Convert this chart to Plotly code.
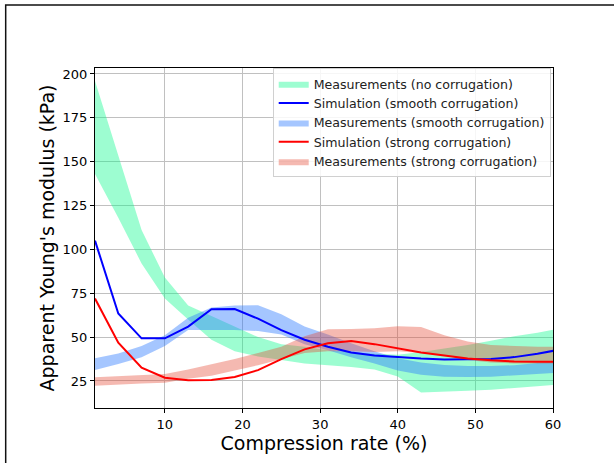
import plotly.graph_objects as go

x = [1, 4, 7, 10, 13, 16, 19, 22, 25, 28, 31, 34, 37, 40, 43, 46, 49, 52, 55, 58, 61]

sim_smooth = [105, 63.5, 49.3, 49.3, 56, 65.9, 66, 60.5, 54, 48.5, 44.5, 41.2, 39.5, 38.5,
              37.8, 37.3, 37.2, 37.5, 38.6, 40.5, 43]
sim_strong = [72, 46.8, 32.6, 26.9, 25.4, 25.6, 27.3, 31.2, 37.5, 43, 46.5, 47.8, 46, 43.6,
              41.3, 39.5, 37.8, 36.8, 36.1, 36, 36]

meas_none_low = [143, 118, 92, 72, 60, 48.5, 42, 39, 37, 35, 34, 33, 31.5, 27.5,
                 18.5, 19, 19.5, 20, 21, 22, 23]
meas_none_high = [196, 153, 111, 84, 68, 62, 56, 50, 46, 44.5, 42.5, 41.5, 40.5, 40,
                  41.5, 43.5, 45.5, 48, 50.5, 52.5, 55]

meas_smooth_low = [31.3, 34.7, 38.5, 44.9, 54, 54, 54, 53.5, 51.5, 46, 42.5, 38.5, 35, 31,
                   28.5, 27.4, 27.2, 27.4, 28, 29, 29.8]
meas_smooth_high = [37.9, 40.7, 44.9, 51, 61, 66.9, 68, 68.2, 63, 56, 51.5, 46.5, 42, 38,
                    35.5, 34.1, 33.5, 33.5, 34, 35.3, 36.5]

meas_strong_low = [22.3, 23, 23.5, 24, 26.3, 28, 31, 34, 37.5, 41, 42, 42, 41.5, 42,
                   41, 39.5, 37, 35.5, 35, 35, 35]
meas_strong_high = [27.1, 27.8, 28.3, 29, 31.5, 34.5, 37.5, 41, 44.5, 50.5, 54.5, 54.6, 55, 56.2,
                    55.8, 51, 47.5, 45.5, 44.8, 44.5, 44.5]

x_ticks = [10, 20, 30, 40, 50, 60]
y_ticks = [25, 50, 75, 100, 125, 150, 175, 200]

FONT = "DejaVu Sans"

fig = go.Figure()


def band(lo, hi, color, name, rank):
    return go.Scatter(
        x=x + x[::-1], y=hi + lo[::-1], fill="toself", fillcolor=color,
        line=dict(width=0, color=color), mode="lines", name=name,
        legendrank=rank, hoverinfo="skip")


fig.add_trace(band(meas_none_low, meas_none_high, "rgba(10,250,140,0.4)",
                   "Measurements (no corrugation)", 1))
fig.add_trace(band(meas_smooth_low, meas_smooth_high, "rgba(40,120,255,0.42)",
                   "Measurements (smooth corrugation)", 3))
fig.add_trace(band(meas_strong_low, meas_strong_high, "rgba(230,70,50,0.38)",
                   "Measurements (strong corrugation)", 5))
fig.add_trace(go.Scatter(x=x, y=sim_smooth, mode="lines", line=dict(color="#0000ff", width=2),
                         name="Simulation (smooth corrugation)", legendrank=2))
fig.add_trace(go.Scatter(x=x, y=sim_strong, mode="lines", line=dict(color="#ff0000", width=2),
                         name="Simulation (strong corrugation)", legendrank=4))

axis_common = dict(
    showgrid=True, gridcolor="#c0c0c0", gridwidth=1,
    showline=True, linecolor="black", linewidth=1, mirror=True,
    ticks="outside", ticklen=4, tickcolor="black", tickwidth=1,
    tickfont=dict(family=FONT, size=13, color="black"),
    zeroline=False,
)

fig.update_xaxes(range=[1, 60], tickvals=x_ticks,
                 title=dict(text="Compression rate (%)", font=dict(family=FONT, size=19, color="black"),
                            standoff=6),
                 **axis_common)
fig.update_yaxes(range=[9.6, 203.4], tickvals=y_ticks,
                 title=dict(text="Apparent Young's modulus (kPa)",
                            font=dict(family=FONT, size=19, color="black"), standoff=2),
                 **axis_common)

fig.add_shape(type="rect", xref="paper", yref="paper", x0=-0.195, x1=1.6, y0=-0.6, y1=1.185,
              line=dict(color="#111", width=1.5), fillcolor="rgba(0,0,0,0)", layer="below")

fig.update_layout(
    width=614, height=463,
    margin=dict(l=95, r=61, t=68, b=55),
    paper_bgcolor="white", plot_bgcolor="white",
    font=dict(family=FONT, size=13, color="black"),
    showlegend=True,
    legend=dict(x=0.995, y=1.0, xanchor="right", yanchor="top",
                bgcolor="rgba(255,255,255,0.85)", bordercolor="#d0d0d0", borderwidth=1,
                font=dict(family=FONT, size=12.6, color="#222"), tracegroupgap=0,
                itemwidth=30),
)

fig.write_html("out.html", config={"displayModeBar": False},
               post_script="document.body.style.margin='0';")
